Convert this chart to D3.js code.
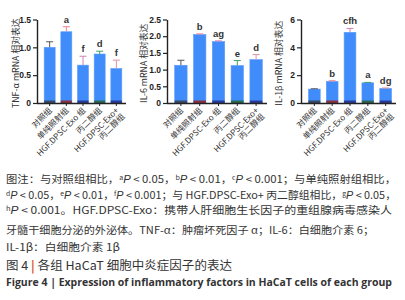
<!DOCTYPE html>
<html><head><meta charset="utf-8">
<script src="https://cdn.jsdelivr.net/npm/d3@7"></script>
<style>body{margin:0;background:#fff}svg{display:block}</style>
</head><body><svg id="c" width="405" height="300"></svg>
<script>
const categories = ["对照组", "单纯照射组", "HGF.DPSC-Exo 组", "丙二醇组", "HGF.DPSC-Exo+|丙二醇组"];
const tnfValues = [1.00, 1.28, 0.68, 0.88, 0.62];
const tnfErrors = [0.10, 0.09, 0.16, 0.05, 0.15];
const tnfLetters = ["", "a", "f", "d", "f"];
const il6Values = [1.13, 2.05, 1.84, 1.12, 1.30];
const il6Errors = [0.15, 0.02, 0.02, 0.15, 0.15];
const il6Letters = ["", "b", "ag", "e", "d"];
const il1Values = [1.00, 1.55, 5.08, 1.45, 1.05];
const il1Errors = [0.02, 0.05, 0.28, 0.03, 0.03];
const il1Letters = ["", "b", "cfh", "a", "dg"];
const tnfTicks = [0, 0.5, 1.0, 1.5];
const il6Ticks = [0, 0.5, 1.0, 1.5, 2.0, 2.5];
const il1Ticks = [0, 2, 4, 6];
const yTitles = ["TNF-α mRNA 相对表达", "IL-6 mRNA 相对表达", "IL-1β mRNA 相对表达"];
const baseColors = ["#3a4a66", "#8a3040", "#2a3a9a", "#2a6a50", "#2a3a9a"];
const errColors = ["#555555", "#f08090", "#d080b0", "#40a060", "#e090a0"];

const svg = d3.select("#c");
const text = "#333";
const panels = [
  {values: tnfValues, errors: tnfErrors, letters: tnfLetters, ticks: tnfTicks, max: 1.5, fmt: d3.format(".1f"), x0: 37, x1: 126, title: yTitles[0], tx: 15},
  {values: il6Values, errors: il6Errors, letters: il6Letters, ticks: il6Ticks, max: 2.5, fmt: d3.format(".1f"), x0: 167, x1: 267, title: yTitles[1], tx: 143},
  {values: il1Values, errors: il1Errors, letters: il1Letters, ticks: il1Ticks, max: 6, fmt: d3.format("d"), x0: 301, x1: 396, title: yTitles[2], tx: 278}
];
const yTop = 19.5, yBot = 103;

panels.forEach(p => {
  const g = svg.append("g");
  const x = d3.scaleBand().domain(categories).range([p.x0 + 3, p.x1]).paddingInner(0.34).paddingOuter(0.25);
  const y = d3.scaleLinear().domain([0, p.max]).range([yBot, yTop]);
  const yAxis = d3.axisLeft(y).tickValues(p.ticks).tickFormat(d => d === 0 ? "0" : p.fmt(d)).tickSize(4).tickSizeOuter(0);
  const ya = g.append("g").attr("transform", `translate(${p.x0},0)`).call(yAxis);
  ya.select(".domain").attr("stroke", "#222").attr("stroke-width", 1.4);
  ya.selectAll(".tick line").attr("stroke", "#222").attr("stroke-width", 1.2);
  ya.selectAll(".tick text").attr("fill", "#222").attr("font-family", "Liberation Sans, Arial, sans-serif").attr("font-weight", "bold").attr("font-size", 8.5).attr("x", -6);

  const bw = x.bandwidth();
  g.selectAll("rect.bar").data(p.values).join("rect")
    .attr("x", (d, i) => x(categories[i])).attr("y", d => y(d))
    .attr("width", bw).attr("height", d => yBot - y(d))
    .attr("fill", "#3f8cfa").attr("stroke", "#5a9cff").attr("stroke-width", 0.6);
  g.selectAll("rect.base").data(p.values).join("rect")
    .attr("x", (d, i) => x(categories[i])).attr("y", yBot - 2.5)
    .attr("width", bw).attr("height", 2.5)
    .attr("fill", (d, i) => baseColors[i]);
  p.values.forEach((v, i) => {
    const cx = x(categories[i]) + bw / 2;
    const yt = y(v + p.errors[i]);
    g.append("line").attr("x1", cx).attr("x2", cx).attr("y1", y(v)).attr("y2", yt).attr("stroke", errColors[i]).attr("stroke-width", 1);
    g.append("line").attr("x1", cx - 3.5).attr("x2", cx + 3.5).attr("y1", yt).attr("y2", yt).attr("stroke", errColors[i]).attr("stroke-width", 1);
    if (p.letters[i]) {
      g.append("text").attr("x", cx).attr("y", yt - 4).attr("text-anchor", "middle")
        .attr("font-family", "Liberation Sans, Arial, sans-serif").attr("font-size", 9.5).attr("font-weight", "bold").attr("fill", "#333").text(p.letters[i]);
    }
  });
  const xAxis = d3.axisBottom(x).tickSize(3).tickSizeOuter(0).tickFormat("");
  const xa = g.append("g").attr("transform", `translate(0,${yBot})`).call(xAxis);
  xa.select(".domain").attr("d", `M${p.x0},0.5H${p.x1}`).attr("stroke", "#222").attr("stroke-width", 1.4);
  xa.selectAll(".tick line").attr("stroke", "#222");
  categories.forEach((c, i) => {
    const cx = x(c) + bw / 2;
    const lines = c.split("|");
    const t = g.append("text").attr("transform", `translate(${cx + 3},${yBot + 8}) rotate(-45)`)
      .attr("text-anchor", "end").attr("font-family", "Noto Sans CJK SC, sans-serif").attr("font-size", 8.2).attr("fill", "#333");
    lines.forEach((l, k) => t.append("tspan").attr("x", 0).attr("dy", k === 0 ? 0 : 8.5).text(l));
  });
  g.append("text").attr("transform", `translate(${p.tx},${(yTop + yBot) / 2 + 2}) rotate(-90)`)
    .attr("text-anchor", "middle").attr("dominant-baseline", "central")
    .attr("font-family", "Noto Sans CJK SC, sans-serif").attr("font-size", 8.8).attr("fill", "#333").text(p.title);
});

const capFont = "Noto Sans CJK SC, sans-serif";
function line(y, parts, len, opts = {}) {
  const t = svg.append("text").attr("x", 6).attr("y", y).attr("font-family", opts.family || capFont)
    .attr("font-size", opts.size || 10.4).attr("fill", text).attr("font-weight", opts.weight || "normal");
  if (len) t.attr("textLength", len).attr("lengthAdjust", "spacingAndGlyphs");
  parts.forEach(pt => {
    const s = t.append("tspan").text(pt.t);
    if (pt.sup) s.attr("font-size", 6.5).attr("baseline-shift", "3");
    if (pt.i) s.attr("font-style", "italic").attr("font-family", "Liberation Sans, Arial, sans-serif");
    if (pt.fill) s.attr("fill", pt.fill);
    if (pt.w) s.attr("font-weight", pt.w);
  });
  return t;
}
line(183, [{t: "图注：与对照组相比，"}, {t: "a", sup: 1}, {t: "P", i: 1}, {t: " < 0.05，"}, {t: "b", sup: 1}, {t: "P", i: 1}, {t: " < 0.01，"}, {t: "c", sup: 1}, {t: "P", i: 1}, {t: " < 0.001；与单纯照射组相比，"}], 390);
line(198.5, [{t: "d", sup: 1}, {t: "P", i: 1}, {t: " < 0.05，"}, {t: "e", sup: 1}, {t: "P", i: 1}, {t: " < 0.01，"}, {t: "f", sup: 1}, {t: "P", i: 1}, {t: " < 0.001；与 HGF.DPSC-Exo+ 丙二醇组相比，"}, {t: "g", sup: 1}, {t: "P", i: 1}, {t: " < 0.05，"}], 390);
line(214, [{t: "h", sup: 1}, {t: "P", i: 1}, {t: " < 0.001。HGF.DPSC-Exo：携带人肝细胞生长因子的重组腺病毒感染人"}], 386);
line(234, [{t: "牙髓干细胞分泌的外泌体。TNF-α：肿瘤坏死因子 α；IL-6：白细胞介素 6；"}], 368);
line(251, [{t: "IL-1β：白细胞介素 1β"}], 114);
line(269.5, [{t: "图 4 "}, {t: "|", fill: "#d9541e", w: "bold"}, {t: " 各组 HaCaT 细胞中炎症因子的表达"}], 226, {size: 12});
line(285.5, [{t: "Figure 4   |   Expression of inflammatory factors in HaCaT cells of each group"}], 386, {size: 10.5, weight: "bold", family: "Open Sans, sans-serif"});
</script></body></html>
